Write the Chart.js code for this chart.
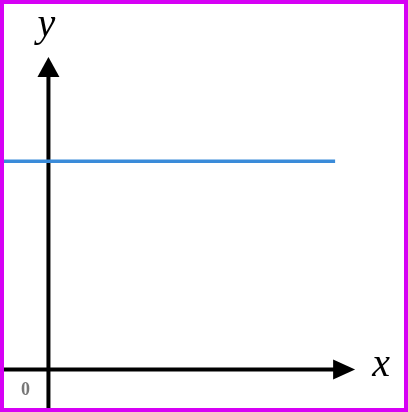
<!DOCTYPE html>
<html>
<head>
<meta charset="utf-8">
<script src="https://cdn.jsdelivr.net/npm/chart.js@4"></script>
<style>
  body { margin: 0; background: #fff; }
  canvas { display: block; }
</style>
</head>
<body>
<canvas id="graph" width="408" height="412"></canvas>
<script>
// horizontal line y = 5.4, drawn from the left edge to x = 6.45
const lineX = [-1, 6.45];
const lineY = [5.4, 5.4];

// axis extents and arrow tips (in data units)
const xRange = [-1, 8];
const yRange = [-1, 9.5];
const xTip = 6.9;
const yTip = 8.1;
const axisNames = ['x', 'y'];
const originLabel = '0';

const arrowAxes = {
    id: 'arrowAxes',
    // axes go under the line
    beforeDatasetsDraw(chart) {
        const ctx = chart.ctx;
        const sx = chart.scales.x;
        const sy = chart.scales.y;
        const ox = sx.getPixelForValue(0);
        const oy = sy.getPixelForValue(0);
        const tx = sx.getPixelForValue(xTip);
        const ty = sy.getPixelForValue(yTip);

        ctx.save();
        ctx.strokeStyle = '#000';
        ctx.fillStyle = '#000';
        ctx.lineWidth = 4;

        // x axis
        ctx.beginPath();
        ctx.moveTo(sx.getPixelForValue(xRange[0]), oy);
        ctx.lineTo(tx - 18, oy);
        ctx.stroke();
        ctx.beginPath();
        ctx.moveTo(tx, oy);
        ctx.lineTo(tx - 22, oy - 10);
        ctx.lineTo(tx - 22, oy + 10);
        ctx.closePath();
        ctx.fill();

        // y axis
        ctx.beginPath();
        ctx.moveTo(ox, sy.getPixelForValue(yRange[0]));
        ctx.lineTo(ox, ty + 18);
        ctx.stroke();
        ctx.beginPath();
        ctx.moveTo(ox, ty);
        ctx.lineTo(ox - 11, ty + 20);
        ctx.lineTo(ox + 11, ty + 20);
        ctx.closePath();
        ctx.fill();

        // labels
        ctx.font = 'italic 40px "Liberation Serif", serif';
        ctx.textAlign = 'center';
        ctx.textBaseline = 'alphabetic';
        ctx.fillText(axisNames[0], tx + 26, oy + 7);
        ctx.fillText(axisNames[1], ox - 2, ty - 21);

        ctx.font = 'bold 18px "Liberation Serif", serif';
        ctx.fillStyle = '#777';
        ctx.fillText(originLabel, ox - 23, oy + 26);
        ctx.restore();
    },
    afterDraw(chart) {
        const ctx = chart.ctx;
        ctx.save();
        ctx.strokeStyle = '#d600f5';
        ctx.lineWidth = 8;
        ctx.strokeRect(0, 0, chart.width, chart.height);
        ctx.restore();
    }
};

const data = {
    datasets: [{
        data: lineX.map((x, i) => ({ x: x, y: lineY[i] })),
        borderColor: '#3a8bd9',
        borderWidth: 3.5,
        borderCapStyle: 'butt',
        pointRadius: 0,
        showLine: true
    }]
};

const config = {
    type: 'scatter',
    data: data,
    options: {
        responsive: false,
        animation: false,
        devicePixelRatio: 1,
        layout: { padding: { left: 4, right: 4, top: 3, bottom: 4 } },
        plugins: {
            legend: { display: false },
            tooltip: { enabled: false }
        },
        scales: {
            x: { type: 'linear', min: xRange[0], max: xRange[1], display: false },
            y: { type: 'linear', min: yRange[0], max: yRange[1], display: false }
        }
    },
    plugins: [arrowAxes]
};

new Chart(document.querySelector('#graph'), config);
</script>
</body>
</html>
